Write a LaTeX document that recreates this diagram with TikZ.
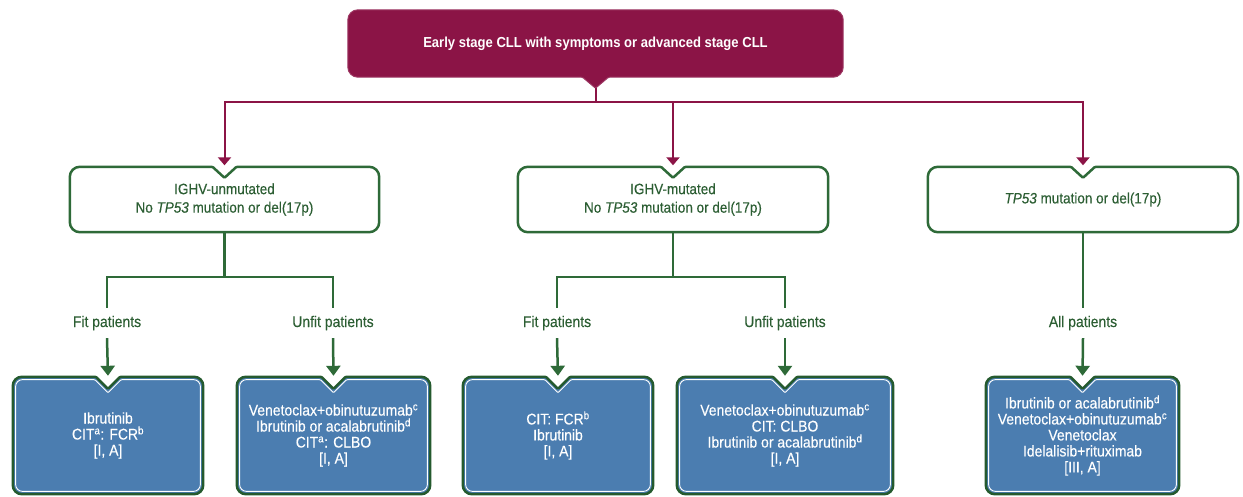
\documentclass[tikz,border=0pt]{standalone}
\usepackage{fontspec}
\setmainfont{Liberation Sans}[FakeStretch=0.9,UprightFeatures={FakeBold=0.3},ItalicFeatures={FakeBold=0.3}]
\usetikzlibrary{arrows.meta,calc}
\definecolor{mag}{HTML}{8B1446}
\definecolor{grn}{HTML}{2E6A38}
\definecolor{grntxt}{HTML}{2C5E33}
\definecolor{bfill}{HTML}{4B7DB0}
\definecolor{bdark}{HTML}{255A2E}
% #1 options, #2 node, #3 inset, #4 notch half width, #5 notch tip depth, #6 radius
\newcommand\nbdraw[6]{%
  \draw[#1,rounded corners=#6]
    ($(#2.north)+(-#4,#3)$) -- ($(#2.north west)+(#3,#3)$) -- ($(#2.south west)+(#3,-#3)$)
    -- ($(#2.south east)+(-#3,-#3)$) -- ($(#2.north east)+(-#3,#3)$)
    [rounded corners=1pt] -- ($(#2.north)+(#4,#3)$) -- ($(#2.north)+(0,#5)$) -- cycle;}
\begin{document}
\begin{tikzpicture}[x=1pt,y=-1pt,
  box/.style={inner sep=0pt,align=center},
  topbox/.style={box,minimum width=495pt,minimum height=67pt,text=white,font=\bfseries\fontsize{14.5}{17}\selectfont},
  greenbox/.style={box,minimum width=310pt,minimum height=65pt,text=grntxt,font=\fontsize{15}{18.5}\selectfont},
  bluebox/.style={box,minimum height=117pt,text=white,font=\fontsize{15.5}{16}\selectfont},
  lbl/.style={inner sep=0pt,minimum height=30pt,text=grntxt,font=\fontsize{15.5}{17}\selectfont},
  magline/.style={draw=mag,line width=2pt},
  gline/.style={draw=grn,line width=2.5pt},
  magarrow/.style={magline,-{Triangle[width=13pt,length=8pt]},shorten >=1.5pt},
  garrow/.style={gline,-{Triangle[width=14pt,length=10pt]},shorten >=1pt}]
\useasboundingbox (0,0) rectangle (1243,496);

% top box
\node[topbox] (top) at (595.5,43.5) {};
\path[fill=mag,draw=mag!85!white,line width=1pt,rounded corners=10pt]
  ($(top.south)+(13,0)$) -- (top.south east) -- (top.north east) -- (top.north west)
  -- (top.south west) [rounded corners=1pt] -- ($(top.south)+(-13,0)$) -- ($(top.south)+(0,11)$) -- cycle;
\node[topbox] at (top.center) {Early stage CLL with symptoms or advanced stage CLL};

% green boxes
\node[greenbox,minimum width=309pt] (g1) at (224.5,199.5) {};
\node[greenbox] (g2) at (673,199.5) {};
\node[greenbox] (g3) at (1083,199.5) {};
\foreach \g in {g1,g2,g3}{\nbdraw{draw=grn,line width=2.5pt,fill=white}{\g}{0}{12}{11}{10pt}}
\node[greenbox] at (g1.center) {IGHV-unmutated\\No \textit{TP53} mutation or del(17p)};
\node[greenbox] at (g2.center) {IGHV-mutated\\No \textit{TP53} mutation or del(17p)};
\node[greenbox] at (g3.center) {\textit{TP53} mutation or del(17p)};

% labels
\node[lbl] (fit1) at (107,323) {Fit patients};
\node[lbl] (unfit1) at (333,323) {Unfit patients};
\node[lbl] (fit2) at (557,323) {Fit patients};
\node[lbl] (unfit2) at (785,323) {Unfit patients};
\node[lbl] (all3) at (1083,323) {All patients};

% blue boxes
\node[bluebox,minimum width=190pt] (b1) at (108,435.5) {};
\node[bluebox,minimum width=193pt] (b2) at (333.5,435.5) {};
\node[bluebox,minimum width=190pt] (b3) at (558,435.5) {};
\node[bluebox,minimum width=216pt] (b4) at (785,435.5) {};
\node[bluebox,minimum width=193pt] (b5) at (1082.5,435.5) {};
\foreach \b in {b1,b2,b3,b4,b5}{%
  \nbdraw{draw=bdark,line width=2.5pt,fill=bfill}{\b}{0}{12}{12}{9pt}
  \nbdraw{draw=white,line width=0.9pt}{\b}{2.8}{13.2}{16}{7pt}}
\node[bluebox] at (b1.center) {Ibrutinib\\CIT\textsuperscript{a}: FCR\textsuperscript{b}\\{}[I, A]};
\node[bluebox] at (b2.center) {Venetoclax+obinutuzumab\textsuperscript{c}\\Ibrutinib or acalabrutinib\textsuperscript{d}\\CIT\textsuperscript{a}: CLBO\\{}[I, A]};
\node[bluebox] at (b3.center) {CIT: FCR\textsuperscript{b}\\Ibrutinib\\{}[I, A]};
\node[bluebox] at (b4.center) {Venetoclax+obinutuzumab\textsuperscript{c}\\CIT: CLBO\\Ibrutinib or acalabrutinib\textsuperscript{d}\\{}[I, A]};
\node[bluebox] at (b5.center) {Ibrutinib or acalabrutinib\textsuperscript{d}\\Venetoclax+obinutuzumab\textsuperscript{c}\\Venetoclax\\Idelalisib+rituximab\\{}[III, A]};

% magenta connectors
\coordinate (tip) at ($(top.south)+(0,11)$);
\coordinate (hub) at ($(top.south)+(0,25)$);
\draw[magline] (tip) -- (hub);
\draw[magarrow] (hub) -| (g1.north);
\draw[magarrow] (hub) -- (g2.north|-hub) -- (g2.north);
\draw[magarrow] (hub) -| (g3.north);

% green connectors
\coordinate (j1) at ($(g1.south)+(0,45)$);
\coordinate (j2) at ($(g2.south)+(0,45)$);
\draw[gline] (g1.south) -- (j1);
\draw[gline] (fit1.north) |- (j1) -| (unfit1.north);
\draw[gline] (g2.south) -- (j2);
\draw[gline] (fit2.north) |- (j2) -| (unfit2.north);
\draw[gline] (g3.south) -- (all3.north);

\draw[garrow] (fit1.south) -- (b1.north);
\draw[garrow] (unfit1.south) -- (b2.north);
\draw[garrow] (fit2.south) -- (b3.north);
\draw[garrow] (unfit2.south) -- (b4.north);
\draw[garrow] (all3.south) -- (b5.north);
\end{tikzpicture}
\end{document}
